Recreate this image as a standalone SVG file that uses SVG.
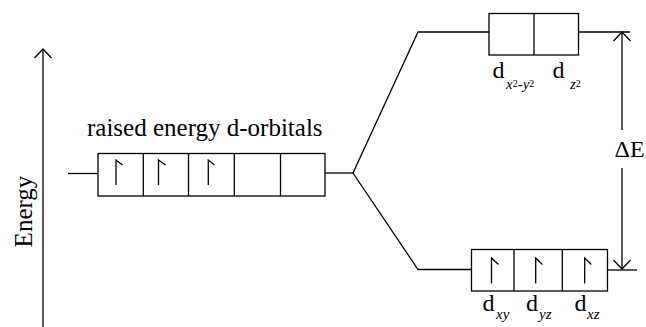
<svg xmlns="http://www.w3.org/2000/svg" width="646" height="327" viewBox="0 0 646 327">
<style>
.ln{fill:none;stroke:#000;stroke-width:1.3;stroke-linecap:butt}
.box{fill:#fff;stroke:#000;stroke-width:1.3}
.spin{fill:none;stroke:#000;stroke-width:1.3}
text{font-family:'Liberation Serif','Times New Roman',Tinos,'DejaVu Serif',serif;fill:#000}
.big{font-size:25px}
.d{font-size:24px}
.sub{font-size:15px;font-style:italic}
.sup{font-size:10px;font-style:normal}
</style>
<defs>
<marker id="arr" viewBox="-11 -10 13 20" markerWidth="13" markerHeight="20" refX="0" refY="0" orient="auto" markerUnits="userSpaceOnUse">
<path d="M-9,-8.5 L0,0 L-9,8.5" fill="none" stroke="#000" stroke-width="1.3"/>
</marker>
</defs>
<rect width="646" height="327" fill="#fff"/>

<g id="energy-axis">
<line class="ln" x1="43" y1="327" x2="43" y2="49" marker-end="url(#arr)"/>
<text class="big" text-anchor="middle" transform="translate(32,211.5) rotate(-90)">Energy</text>
</g>

<g id="connectors">
<polyline class="ln" points="68,173.5 98,173.5"/>
<polyline class="ln" points="325,173 353,173"/>
<polyline class="ln" points="489,32 418,32 353,173 418,269.5 472,269.5"/>
<polyline class="ln" points="579,32 630,32"/>
<polyline class="ln" points="608,270 637,270"/>
</g>

<g id="degenerate-d">
<text class="big" x="87" y="136">raised energy d-orbitals</text>
<rect class="box" x="98" y="153.5" width="227" height="42.5"/>
<line class="ln" x1="143.3" y1="153.5" x2="143.3" y2="196"/>
<line class="ln" x1="188.5" y1="153.5" x2="188.5" y2="196"/>
<line class="ln" x1="234.3" y1="153.5" x2="234.3" y2="196"/>
<line class="ln" x1="280.5" y1="153.5" x2="280.5" y2="196"/>
<path class="spin" d="M116,185 V160 L122.5,165"/>
<path class="spin" d="M158.5,185 V160 L165.5,165"/>
<path class="spin" d="M208.3,185 V160 L214.5,165"/>
</g>

<g id="eg-set">
<rect class="box" x="489" y="13.5" width="89.5" height="41.5"/>
<line class="ln" x1="534" y1="13.5" x2="534" y2="55"/>
<text class="d" x="492.5" y="77.5">d</text>
<text class="sub" x="506" y="88.5">x<tspan class="sup" dy="-2">2</tspan><tspan dy="2">-y</tspan><tspan class="sup" dy="-2">2</tspan></text>
<text class="d" x="552.5" y="77.5">d</text>
<text class="sub" x="570" y="88.5">z<tspan class="sup" dy="-2">2</tspan></text>
</g>

<g id="t2g-set">
<rect class="box" x="471.5" y="249.5" width="136" height="41.5"/>
<line class="ln" x1="514" y1="249.5" x2="514" y2="291"/>
<line class="ln" x1="562.3" y1="249.5" x2="562.3" y2="291"/>
<path class="spin" d="M491.5,283.5 V258 L498.5,264.5"/>
<path class="spin" d="M535.7,283.5 V258 L542.5,264.5"/>
<path class="spin" d="M584.7,283.5 V258 L591.3,264.5"/>
<text class="d" x="482.5" y="310.7">d</text>
<text class="sub" x="496" y="319.3">xy</text>
<text class="d" x="526" y="310.7">d</text>
<text class="sub" x="539" y="319.3">yz</text>
<text class="d" x="574.5" y="310.7">d</text>
<text class="sub" x="587" y="319.3">xz</text>
</g>

<g id="delta-e">
<line class="ln" x1="622" y1="130" x2="622" y2="32" marker-end="url(#arr)"/>
<line class="ln" x1="622" y1="168" x2="622" y2="269" marker-end="url(#arr)"/>
<text class="big" x="614.5" y="157" style="font-size:24px">ΔE</text>
</g>
</svg>
